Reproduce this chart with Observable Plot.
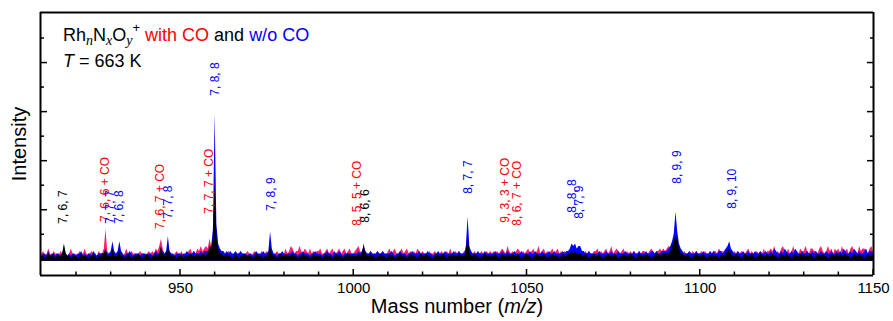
<!DOCTYPE html>
<html><head><meta charset="utf-8">
<script src="https://cdn.jsdelivr.net/npm/d3@7"></script>
<script src="https://cdn.jsdelivr.net/npm/@observablehq/plot@0.6"></script>
<style>body{margin:0;background:#fff} svg{display:block}</style>
</head><body><div id="chart"></div>
<script>
// Spectrum sampling (mass number, m/z)
const massStart = 909.5, massStep = 0.5;
const baseline = -1;

// Intensity (arbitrary units, 10 = one y tick) — Rh_nN_xO_y+ with CO
const withCO = [2,
 2,3,1,2,4,2,1,3,2,2,1,3,2,3,2,1,2,4,2,1,
 2,1,3,2,2,4,2,1,2,3,2,2,1,3,2,2,4,12,3,2,
 2,3,2,1,2,2,3,1,2,4,2,1,3,2,2,1,2,3,2,2,
 1,2,3,2,3,2,4,3,5,8,4,2,2,3,2,2,1,2,3,2,
 2,3,1,2,2,3,4,2,3,2,4,3,5,3,4,5,4,8,5,6,
 7,5,3,2,3,2,1,2,3,2,2,1,3,2,2,3,2,1,2,3,
 2,1,2,3,2,2,1,3,2,2,3,2,3,2,1,2,3,2,2,1,
 2,4,2,3,5,4,2,3,3,5,3,2,4,3,2,4,2,3,2,3,
 3,4,2,2,3,4,2,3,4,2,2,3,4,2,3,4,2,3,4,2,
 2,3,4,5,3,2,4,3,2,2,3,2,1,2,3,2,2,3,2,1,
 3,4,2,3,4,2,2,3,4,2,3,4,2,3,2,3,2,4,3,2,
 3,2,2,1,3,2,2,3,2,1,2,3,2,2,3,2,4,2,2,3,
 2,3,2,2,3,3,4,3,2,2,3,2,1,2,3,2,2,3,2,3,
 2,3,2,3,2,3,4,3,2,5,3,2,3,2,3,4,3,2,3,2,
 3,4,2,3,4,2,3,5,2,3,4,2,3,2,3,4,2,3,4,2,
 3,2,3,2,3,3,4,3,3,2,3,4,3,2,3,2,3,2,2,3,
 3,4,2,3,2,3,4,2,3,5,2,3,4,3,2,3,4,2,3,2,
 3,2,3,2,2,3,2,3,3,2,2,3,4,3,2,3,3,4,3,4,
 3,4,5,4,5,5,6,5,4,3,2,3,2,2,3,2,3,2,3,2,
 2,3,2,3,2,2,3,2,3,3,2,4,3,3,2,3,3,3,2,2,
 3,2,3,2,3,2,2,3,4,2,3,2,2,3,2,3,2,4,2,3,
 3,4,3,5,2,3,2,4,5,3,2,4,2,3,5,2,3,2,4,3,
 3,5,3,2,4,4,3,3,2,4,5,3,2,3,5,3,4,2,4,3,
 4,2,5,3,3,4,2,4,5,3,3,2,5,3,4,4,3,2,4,5,
 3];

// Rh_nN_xO_y+ without CO
const withoutCO = [1,
 1,2,2,1,3,1,2,2,1,2,2,1,2,5,2,1,2,1,2,2,
 1,2,2,3,1,2,1,2,2,1,3,2,1,2,2,2,2,4,2,2,
 3,7,3,2,3,7,3,2,1,2,2,3,2,1,2,2,2,1,2,2,
 2,1,2,2,1,2,3,2,2,4,3,2,3,9,3,2,2,1,2,2,
 2,1,2,2,3,2,2,2,3,2,2,2,3,2,3,3,3,4,5,12,
 59,14,6,4,3,3,2,3,2,3,2,2,3,2,2,3,2,2,2,1,
 2,2,1,2,3,2,2,2,3,2,2,3,11,4,2,2,1,2,2,3,
 2,1,2,2,2,3,2,2,1,2,2,3,2,2,2,1,2,2,3,2,
 2,2,1,2,2,3,2,2,1,3,2,2,3,2,1,2,2,2,2,2,
 2,2,2,3,2,3,5,3,2,2,3,2,2,2,3,2,2,3,2,2,
 2,2,3,2,1,2,2,3,2,2,2,1,2,2,3,2,2,2,3,2,
 2,2,2,3,2,2,1,2,2,3,2,2,2,3,2,2,2,2,3,2,
 2,3,2,2,2,5,17,5,3,2,2,2,3,2,2,2,3,2,2,2,
 2,2,3,2,2,2,3,2,2,3,2,2,2,3,2,2,2,3,2,2,
 2,2,3,2,2,3,2,2,2,3,2,2,2,3,2,2,3,2,2,2,
 2,3,2,3,3,4,6,5,6,4,5,5,3,3,2,2,3,2,2,2,
 2,2,3,2,2,2,3,2,2,3,2,2,2,3,2,2,2,3,2,2,
 2,2,3,2,2,3,2,2,2,3,2,2,3,3,2,3,2,2,3,3,
 3,3,4,5,7,10,19,11,6,4,3,2,2,2,3,2,2,2,3,2,
 2,2,3,2,2,2,3,2,3,2,2,3,3,2,3,4,5,7,4,3,
 2,2,3,2,2,3,2,2,3,2,2,2,3,2,2,3,2,2,3,2,
 2,3,2,4,3,2,2,3,2,4,3,2,2,3,2,4,3,2,2,3,
 2,2,3,2,2,3,2,3,2,2,3,2,2,3,2,2,3,2,2,3,
 2,3,2,4,3,2,2,3,2,4,3,2,3,2,2,3,4,2,3,3,
 2];

// overlap (common to both spectra)
const common = [1,
 1,1,0,1,2,1,1,2,0,1,1,1,2,6,2,1,1,0,1,1,
 1,0,1,2,1,1,1,0,1,1,2,1,0,1,1,2,2,4,1,1,
 1,4,1,1,1,4,1,1,0,1,2,1,0,1,1,1,2,1,0,1,
 1,2,1,0,1,1,2,1,2,5,2,1,2,5,2,1,1,1,0,1,
 1,2,0,1,1,1,2,1,1,1,2,1,1,2,2,1,2,5,4,8,
 30,9,4,2,2,1,1,2,1,1,0,1,2,1,0,1,1,2,1,1,
 1,1,0,1,2,1,1,1,0,1,1,2,5,2,1,1,0,1,2,1,
 1,2,1,1,1,2,1,1,0,1,1,2,1,1,1,0,1,2,1,1,
 1,1,0,1,2,1,1,1,0,1,2,1,1,1,0,1,1,2,1,1,
 1,1,1,2,1,2,6,2,1,1,2,1,1,0,1,1,2,1,1,0,
 1,2,1,1,0,1,1,2,1,1,1,0,1,2,1,1,1,0,1,2,
 1,1,2,1,1,0,0,1,2,1,1,1,2,1,0,1,1,2,1,1,
 1,2,1,1,1,3,9,3,1,1,2,1,1,0,1,1,2,1,1,1,
 1,1,2,1,0,1,2,1,1,2,1,1,2,1,1,2,1,0,1,1,
 2,1,1,0,1,1,2,1,1,1,2,1,0,1,1,2,1,1,1,0,
 1,2,1,1,2,2,3,2,3,2,2,2,1,1,2,1,0,1,1,2,
 1,1,2,1,0,1,1,2,1,1,1,2,1,0,1,1,2,1,1,1,
 2,1,1,0,1,2,1,1,1,2,1,1,0,1,1,2,2,1,2,2,
 2,2,2,3,5,7,9,8,4,2,2,1,1,2,1,0,1,1,2,1,
 1,1,2,1,0,1,1,2,1,1,1,0,1,2,1,2,3,4,2,1,
 1,2,1,1,0,1,2,1,1,1,2,1,0,1,1,2,1,1,1,2,
 1,1,2,1,1,0,1,2,1,1,2,1,1,0,1,2,1,1,2,1,
 2,1,1,1,2,1,0,1,2,1,1,2,1,1,0,1,2,1,1,2,
 1,2,1,1,2,1,1,0,1,2,1,1,2,1,1,0,1,2,1,1,
 1];

// Peak assignments (n, x, y)
const labelText  = ["7, 6, 7","7, 6, 6 + CO","7, 7, 7","7, 6, 8","7, 6, 7 + CO","7, 7, 8","7, 7, 7 + CO","7, 8, 8","7, 8, 9",
                    "8, 5, 5 + CO","8, 6, 6","8, 7, 7","9, 3, 3 + CO","8, 6, 7 + CO","8, 8, 8","8, 7, 9","8, 9, 9","8, 9, 10"];
const labelMass  = [916.2, 928.2, 929.8, 932.2, 944.2, 946.4, 958.2, 960.1, 976.1,
                    1001.0, 1003.3, 1033.0, 1043.7, 1047.2, 1063.0, 1065.0, 1093.3, 1109.2];
const labelLevel = [14.3, 15, 14.3, 14.3, 12.2, 16.3, 18.4, 66.5, 19.6,
                    13.5, 14.7, 26.5, 14.7, 13.5, 18.8, 16.3, 30.6, 20.4];
const labelGroup = ["both","with","without","without","with","without","with","without","without",
                    "with","both","without","with","with","without","without","without","without"];

const xDomain = [909.6, 1150];
const yDomain = [-6.8, 100.4];
const xTicksMajor = [950, 1000, 1050, 1100, 1150];
const xTicksMinor = [920, 930, 940, 960, 970, 980, 990, 1010, 1020, 1030, 1040, 1060, 1070, 1080, 1090, 1110, 1120, 1130, 1140];
const yTicksMajor = [20, 40, 60, 80];
const yTicksMinor = [10, 30, 50, 70, 90];

const fillColor = {with: "#ff1f70", without: "#0000ff", both: "#000000"};
const textColor = {with: "#ff0000", without: "#0000ff", both: "#000000"};

const rows = arr => arr.map((v, i) => ({mass: massStart + i * massStep, value: v}));
const labels = labelText.map((t, i) => ({text: t, mass: labelMass[i], level: labelLevel[i], color: textColor[labelGroup[i]]}));

const font = "'Liberation Sans', Arial, sans-serif";
const plot = Plot.plot({
  width: 893, height: 321,
  marginLeft: 40, marginRight: 20, marginTop: 12, marginBottom: 46,
  x: {domain: xDomain},
  y: {domain: yDomain},
  color: {type: "identity"},
  style: {fontFamily: font, fontSize: "15px", background: "white", color: "black", overflow: "visible"},
  marks: [
    Plot.areaY(rows(withCO), {x: "mass", y1: baseline, y2: "value", fill: fillColor.with, clip: true}),
    Plot.areaY(rows(withoutCO), {x: "mass", y1: baseline, y2: "value", fill: fillColor.without, clip: true}),
    Plot.areaY(rows(common), {x: "mass", y1: baseline, y2: "value", fill: fillColor.both, clip: true}),
    Plot.text(labels, {x: "mass", y: "level", text: "text", fill: "color", rotate: -90, textAnchor: "start", fontSize: 12}),
    Plot.ruleY(yDomain, {stroke: "black", strokeWidth: 2}),
    Plot.ruleX(xDomain, {stroke: "black", strokeWidth: 2}),
    Plot.axisX({ticks: xTicksMajor, tickSize: 0, tickPadding: 7, tickFormat: d => String(d), label: null, fontSize: 15}),
    Plot.axisY({anchor: "left", ticks: yTicksMajor, tickSize: -7, tickFormat: () => "", label: null, strokeWidth: 1.5}),
    Plot.axisY({anchor: "left", ticks: yTicksMinor, tickSize: -4, tickFormat: () => "", label: null, strokeWidth: 1.5}),
    Plot.axisY({anchor: "right", ticks: yTicksMajor, tickSize: -7, tickFormat: () => "", label: null, strokeWidth: 1.5}),
    Plot.axisY({anchor: "right", ticks: yTicksMinor, tickSize: -4, tickFormat: () => "", label: null, strokeWidth: 1.5})
  ]
});
document.getElementById("chart").appendChild(plot);

const svg = d3.select(plot);
// inward bottom ticks, placed through Plot's own x and y scales
const xs = plot.scale("x"), ys = plot.scale("y");
const yBottom = ys.apply(yDomain[0]);
const tickG = svg.append("g").attr("stroke", "black").attr("stroke-width", 1.5);
xTicksMajor.forEach(t => tickG.append("line").attr("x1", xs.apply(t)).attr("x2", xs.apply(t)).attr("y1", yBottom).attr("y2", yBottom - 6));
xTicksMinor.forEach(t => tickG.append("line").attr("x1", xs.apply(t)).attr("x2", xs.apply(t)).attr("y1", yBottom).attr("y2", yBottom - 3.5));

const serif = "'Liberation Serif', 'Times New Roman', serif";
// Title inside the frame
const t1 = svg.append("text").attr("x", 63).attr("y", 41).attr("font-size", 18).attr("fill", "black")
  .attr("font-family", font).attr("text-anchor", "start");
t1.append("tspan").text("Rh");
t1.append("tspan").attr("font-family", serif).attr("font-style", "italic").attr("font-size", 14).attr("dy", 4).text("n");
t1.append("tspan").attr("dy", -4).text("N");
t1.append("tspan").attr("font-family", serif).attr("font-style", "italic").attr("font-size", 14).attr("dy", 4).text("x");
t1.append("tspan").attr("dy", -4).text("O");
t1.append("tspan").attr("font-family", serif).attr("font-style", "italic").attr("font-size", 14).attr("dy", 4).text("y");
t1.append("tspan").attr("font-size", 13).attr("dy", -13).text("+");
t1.append("tspan").attr("dy", 9).attr("fill", "#ff0000").text(" with CO");
t1.append("tspan").attr("fill", "black").text(" and ");
t1.append("tspan").attr("fill", "#0000ff").text("w/o CO");

const t2 = svg.append("text").attr("x", 63).attr("y", 67).attr("font-size", 18).attr("fill", "black")
  .attr("font-family", font).attr("text-anchor", "start");
t2.append("tspan").attr("font-style", "italic").text("T");
t2.append("tspan").text(" = 663 K");

// Axis titles
svg.append("text").attr("transform", "translate(25.5,144) rotate(-90)").attr("text-anchor", "middle")
  .attr("font-size", 20).attr("fill", "black").attr("font-family", font).text("Intensity");
const xl = svg.append("text").attr("x", 457).attr("y", 313).attr("text-anchor", "middle")
  .attr("font-size", 20).attr("fill", "black").attr("font-family", font);
xl.append("tspan").text("Mass number (");
xl.append("tspan").attr("font-style", "italic").text("m/z");
xl.append("tspan").text(")");
</script>
</body></html>
